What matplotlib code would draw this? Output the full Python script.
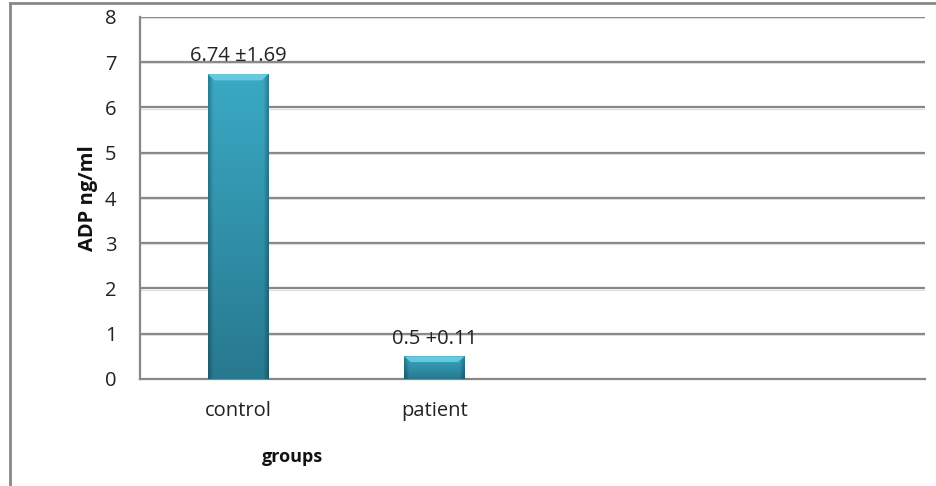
import numpy as np
import matplotlib.pyplot as plt
from matplotlib.patches import Rectangle, Polygon
from matplotlib.lines import Line2D

groups = ["control", "patient", "", ""]
adp_mean = [6.74, 0.5, np.nan, np.nan]
adp_labels = ["6.74 \u00b11.69", "0.5 +0.11", "", ""]
yticks = [0, 1, 2, 3, 4, 5, 6, 7, 8]

plt.rcParams['font.family'] = ['Open Sans', 'DejaVu Sans']

grid_col = "#878787"
top_col = np.array([0x3a, 0xa9, 0xc4]) / 255
bot_col = np.array([0x27, 0x79, 0x8f]) / 255
bevel_col = "#6fd0e6"

def bar_gradient(ax, x0, w, h):
    # vertical gradient, a bit darker toward the side edges
    ny, nx = 60, 40
    t = np.linspace(0, 1, ny)[:, None, None]
    img = top_col * (1 - t) + bot_col * t
    img = np.repeat(img, nx, axis=1)
    xs = np.linspace(0, 1, nx)
    edge = 1 - 0.25 * np.clip(1 - np.minimum(xs, 1 - xs) / 0.08, 0, 1)
    img = img * edge[None, :, None]
    im = ax.imshow(img, extent=(x0, x0 + w, 0, h), origin="upper",
                   aspect="auto", zorder=3, interpolation="bilinear")
    clip = Rectangle((x0, 0), w, h, transform=ax.transData)
    im.set_clip_path(clip)
    # light bevel along the top edge
    dy = min(0.14, h * 0.25)
    dx = 0.035
    ax.add_patch(Polygon([(x0, h), (x0 + w, h), (x0 + w - dx, h - dy), (x0 + dx, h - dy)],
                         closed=True, facecolor=bevel_col, edgecolor="none",
                         alpha=0.85, zorder=4))

fig = plt.figure(figsize=(9.36, 4.86), dpi=100)
ax = fig.add_axes([140 / 936, 1 - 379 / 486, 785 / 936, 362 / 486])

x = np.arange(len(groups))
width = 0.31
for xi, val, lab in zip(x, adp_mean, adp_labels):
    if np.isnan(val):
        continue
    bar_gradient(ax, xi - width / 2, width, val)
    ax.text(xi, val + 0.17, lab, ha="center", va="bottom", fontsize=14.5, color="#222222", zorder=5)

ax.set_xlim(-0.5, len(groups) - 0.5)
ax.set_ylim(0, 8)
ax.set_yticks(yticks)
ax.set_xticks(x)
ax.set_xticklabels(groups)
ax.tick_params(axis="both", length=0, labelsize=14.5, colors="#222222")
ax.tick_params(axis="x", pad=16)
ax.tick_params(axis="y", pad=17)

for v in yticks[1:]:
    ax.axhline(v, color=grid_col, lw=1.6, zorder=1)
    ax.axhline(v - 0.025, color="#dddddd", lw=0.8, zorder=1)

for s in ["top", "right"]:
    ax.spines[s].set_visible(False)
for s in ["left", "bottom"]:
    ax.spines[s].set_color(grid_col)
    ax.spines[s].set_linewidth(1.6)

ax.set_ylabel("ADP ng/ml", fontsize=14.5, fontweight="bold", color="#111111")
ax.yaxis.set_label_coords(-0.053, 0.5)
ax.set_xlabel("groups", fontsize=13, fontweight="bold", color="#111111")
ax.xaxis.set_label_coords(0.194, -0.19)

# outer frame
fig.add_artist(Line2D([9.5 / 936, 9.5 / 936], [0, 1 - 3.5 / 486], transform=fig.transFigure,
                      color=grid_col, lw=2))
fig.add_artist(Line2D([9.5 / 936, 1], [1 - 3.5 / 486, 1 - 3.5 / 486], transform=fig.transFigure,
                      color=grid_col, lw=2))

fig.savefig("out.png", dpi=100)
